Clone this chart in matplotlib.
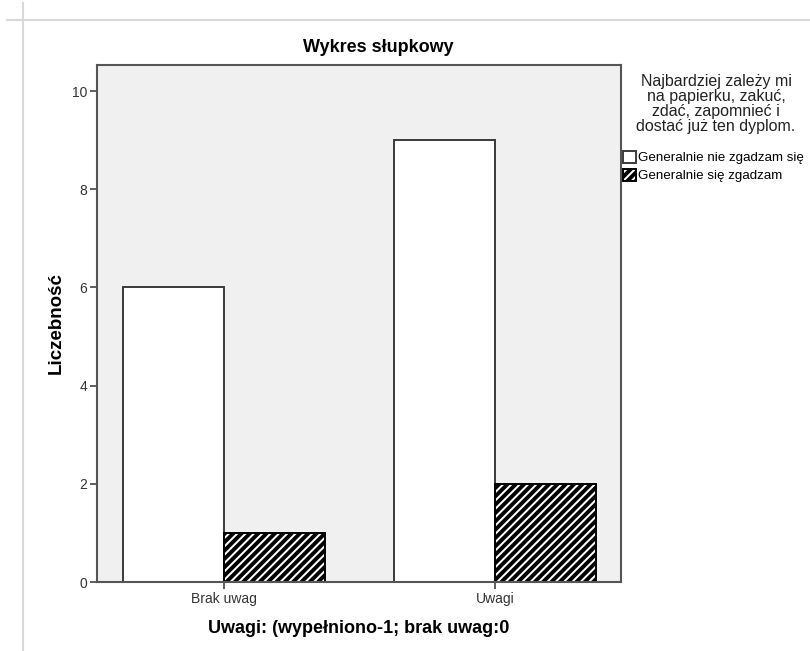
import matplotlib.pyplot as plt
import numpy as np
from matplotlib.lines import Line2D

plt.rcParams['font.family'] = ['Liberation Sans', 'DejaVu Sans']
plt.rcParams['hatch.linewidth'] = 2.8
plt.rcParams['hatch.color'] = 'black'

categories = ['Brak uwag', 'Uwagi']
series_names = ['Generalnie nie zgadzam się', 'Generalnie się zgadzam']
nie_zgadzam = [6, 9]
zgadzam = [1, 2]
y_ticks = [0, 2, 4, 6, 8, 10]

fig = plt.figure(figsize=(8.1, 6.51), dpi=100)
ax = fig.add_axes([97/810, 1 - 582/651, (621 - 97)/810, (582 - 65)/651])
ax.set_facecolor('#f0f0f0')

x = np.arange(len(categories))
w = 0.373
b1 = ax.bar(x - w/2, nie_zgadzam, w, color='white', edgecolor='#3a3a3a', linewidth=1.4,
            label=series_names[0], zorder=2)
b2 = ax.bar(x + w/2, zgadzam, w, color='white', edgecolor='black', linewidth=1.4,
            hatch='////', label=series_names[1], zorder=2)

ax.set_xlim(-0.469, 1.465)
ax.set_ylim(0, 10.53)
ax.set_xticks(x)
ax.set_xticklabels(categories)
ax.set_yticks(y_ticks)
ax.tick_params(axis='both', direction='out', length=5, width=1.2, color='#444444',
               labelsize=10, labelcolor='#333333', pad=2)
for s in ax.spines.values():
    s.set_color('#555555')
    s.set_linewidth(1.5)

fig.text(378/810, 1 - 47/651, 'Wykres słupkowy', fontsize=13, fontweight='bold',
         ha='center', va='center')
ax.set_xlabel('Uwagi: (wypełniono-1; brak uwag:0', fontsize=13, fontweight='bold',
              labelpad=10)
ax.set_ylabel('Liczebność', fontsize=13.5, fontweight='bold', labelpad=5)

# legend title and legend
fig.text(716/810, 1 - 74/651,
         'Najbardziej zależy mi\nna papierku, zakuć,\nzdać, zapomnieć i\ndostać już ten dyplom.',
         ha='center', va='top', fontsize=11.5, color='#222222', linespacing=1.0)
fig.legend(handles=[b1, b2], loc='upper left', bbox_to_anchor=(623/810, 1 - 151/651),
           frameon=False, fontsize=9.6, handlelength=0.95, handleheight=0.95,
           handletextpad=0.2, labelspacing=0.35, borderpad=0, borderaxespad=0)

# page lines from the screenshot
fig.add_artist(Line2D([7/810, 1], [1 - 20/651, 1 - 20/651], color='#d8d8d8', lw=1.5))
fig.add_artist(Line2D([23/810, 23/810], [0, 1 - 3/651], color='#d8d8d8', lw=1.5))

fig.savefig('out.png', dpi=100)
